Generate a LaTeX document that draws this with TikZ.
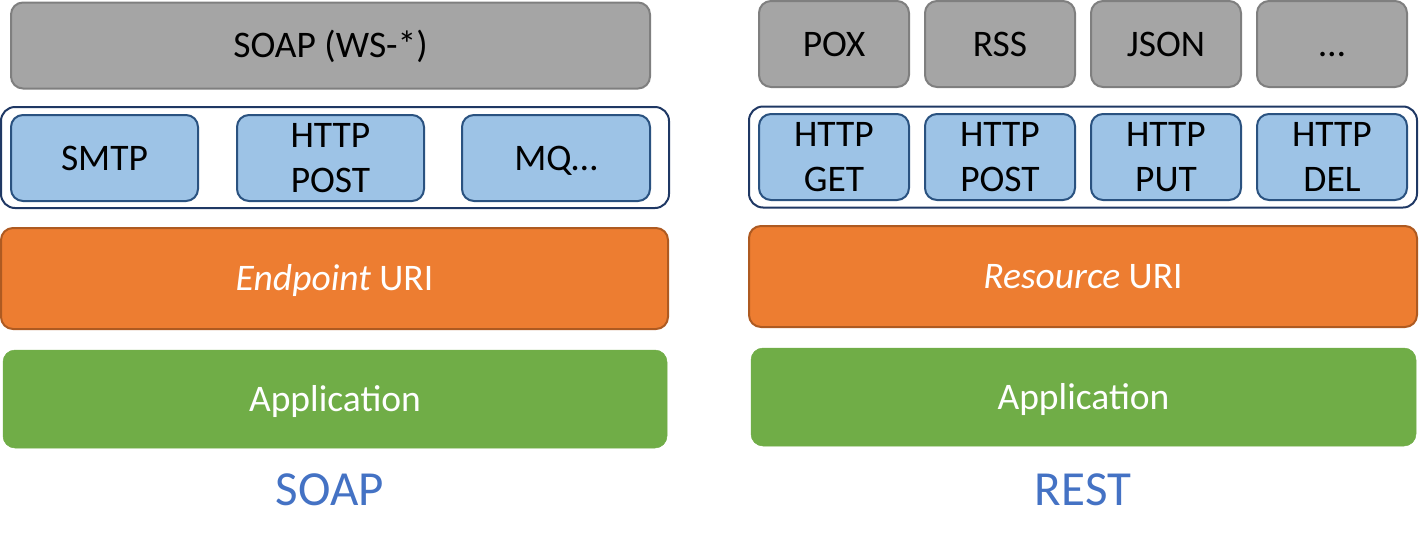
\documentclass[tikz,border=0pt]{standalone}
\usepackage{fontspec}
\setmainfont{Carlito}
\usepackage{tikz}
\usetikzlibrary{positioning}
\usepackage{xcolor}

\definecolor{fmtgray}{HTML}{A5A5A5}
\definecolor{fmtline}{HTML}{7F7F7F}
\definecolor{verbblue}{HTML}{9DC3E6}
\definecolor{verbline}{HTML}{2A5280}
\definecolor{groupline}{HTML}{1F3864}
\definecolor{urifill}{HTML}{ED7D31}
\definecolor{uriline}{HTML}{AE5A21}
\definecolor{appgreen}{HTML}{70AD47}
\definecolor{titleblue}{HTML}{4472C4}

\begin{document}
\begin{tikzpicture}[x=1pt, y=-1pt,
  box/.style={rounded corners=12pt, line width=2pt, align=center, inner sep=0pt,
    font=\fontsize{37.5}{45}\selectfont},
  oneline/.style={text height=24.2pt, text depth=0pt},
  fmtbox/.style={box, oneline, fill=fmtgray, draw=fmtline, minimum height=86pt},
  verbbox/.style={box, fill=verbblue, draw=verbline, minimum height=86pt},
  groupbox/.style={box, fill=white, draw=groupline, rounded corners=14pt,
    minimum width=668pt, minimum height=101pt},
  uribox/.style={box, oneline, fill=urifill, draw=uriline, text=white, minimum height=101pt},
  appbox/.style={box, oneline, fill=appgreen, draw=appgreen, line width=0.5pt, text=white, minimum height=98pt},
  stacktitle/.style={text=titleblue, font=\fontsize{49}{58}\selectfont,
    text height=31.6pt, text depth=0pt}]
  \useasboundingbox (0,0) rectangle (1419,555);

  % SOAP stack
  \node[fmtbox, minimum width=639pt] (soapws) at (330.5,45.5) {SOAP (WS-*)};
  \node[groupbox] (soapgroup) at (335,157.5) {};
  \node[verbbox, oneline, minimum width=187pt] (smtp) at (104.5,158) {SMTP};
  \node[verbbox, minimum width=187pt] (soappost) at (330.5,158) {HTTP\\POST};
  \node[verbbox, oneline, minimum width=188pt] (mq) at (556,158) {MQ…};
  \node[uribox, minimum width=667pt] (endpoint) at (334.5,278.5) {\textit{Endpoint} URI};
  \node[appbox, minimum width=664pt] (soapapp) at (335,399) {Application};
  \node[stacktitle] (soaptitle) at (330,490) {SOAP};

  % REST stack
  \node[fmtbox, minimum width=150pt] (pox) at (834,44) {POX};
  \node[fmtbox, minimum width=150pt] (rss) at (1000,44) {RSS};
  \node[fmtbox, minimum width=150pt] (json) at (1166,44) {JSON};
  \node[fmtbox, minimum width=150pt] (morefmt) at (1332,44) {…};
  \node[groupbox] (restgroup) at (1083,157) {};
  \node[verbbox, minimum width=150pt] (get) at (834,157) {HTTP\\GET};
  \node[verbbox, minimum width=150pt] (restpost) at (1000,157) {HTTP\\POST};
  \node[verbbox, minimum width=150pt] (put) at (1166,157) {HTTP\\PUT};
  \node[verbbox, minimum width=150pt] (del) at (1332,157) {HTTP\\DEL};
  \node[uribox, minimum width=668pt] (resource) at (1083,276.5) {\textit{Resource} URI};
  \node[appbox, minimum width=665pt] (restapp) at (1083.5,397) {Application};
  \node[stacktitle] (resttitle) at (1083,490) {REST};
\end{tikzpicture}
\end{document}
